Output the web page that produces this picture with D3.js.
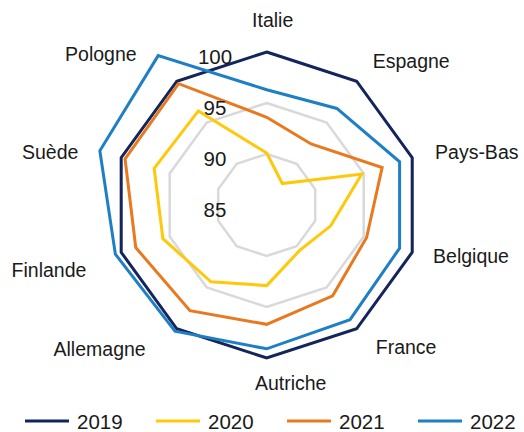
<!DOCTYPE html>
<html>
<head>
<meta charset="utf-8">
<script src="https://cdn.jsdelivr.net/npm/d3@7"></script>
<style>
  body { margin: 0; background: #fff; }
  text { font-family: "Liberation Sans", Arial, sans-serif; fill: #1a1a1a; }
</style>
</head>
<body>
<div id="chart"></div>
<script>
// Data
const countries = ["Italie", "Espagne", "Pays-Bas", "Belgique", "France", "Autriche", "Allemagne", "Finlande", "Suède", "Pologne"];
const years = ["2019", "2020", "2021", "2022"];
const v2019 = [100, 100, 100, 100, 100, 100, 100, 100, 100, 100];
const v2020 = [90.1, 87.6, 94.8, 91.6, 90.5, 92.9, 94.3, 95.7, 96.6, 96.4];
const v2021 = [93.6, 92.4, 96.9, 95.3, 96.0, 96.7, 97.8, 98.5, 99.6, 99.7];
const v2022 = [96.3, 96.7, 98.7, 98.7, 98.9, 99.1, 100.3, 100.6, 102.2, 103.1];
const ticks = [85, 90, 95, 100];

const series = [v2019, v2020, v2021, v2022];
const colors = ["#13255a", "#ffc80a", "#e8791e", "#1f7fc4"];

// Layout
const width = 524, height = 432;
const cx = 266.7, cy = 205;
const R = 153;
const n = countries.length;

const svg = d3.select("#chart")
  .append("svg")
  .attr("width", width)
  .attr("height", height);

const g = svg.append("g")
  .attr("transform", `translate(${cx},${cy})`);

const r = d3.scaleLinear()
  .domain([85, 100])
  .range([0, R]);

const angle = i => i * 2 * Math.PI / n;

const radar = d3.lineRadial()
  .angle((d, i) => angle(i))
  .radius(d => r(d))
  .curve(d3.curveLinearClosed);

// Grid rings
g.selectAll(".grid")
  .data(ticks.slice(1))
  .enter().append("path")
  .attr("class", "grid")
  .attr("d", t => radar(countries.map(() => t)))
  .attr("fill", "none")
  .attr("stroke", "#d9d9d9")
  .attr("stroke-width", 2.5);

// Series
g.selectAll(".series")
  .data(series)
  .enter().append("path")
  .attr("class", "series")
  .attr("d", d => radar(d))
  .attr("fill", "none")
  .attr("stroke", (d, i) => colors[i])
  .attr("stroke-width", 3)
  .attr("stroke-linejoin", "miter");

// Tick labels
g.selectAll(".tick")
  .data(ticks)
  .enter().append("text")
  .attr("class", "tick")
  .attr("x", -51.7)
  .attr("y", t => -r(t) + 11.5)
  .attr("text-anchor", "middle")
  .attr("font-size", "20.5px")
  .text(t => t);

// Category labels (Excel pushes some labels a bit off the spoke)
const nudge = {
  "Italie": [6, -8], "Espagne": [2, -1], "Pays-Bas": [0, 2], "Belgique": [-2, -4],
  "France": [5, -1], "Autriche": [24, 1], "Allemagne": [-17, 1], "Finlande": [-12, 10],
  "Suède": [-20, 2], "Pologne": [-26, -8]
};

g.selectAll(".cat")
  .data(countries)
  .enter().append("text")
  .attr("class", "cat")
  .attr("x", (d, i) => Math.sin(angle(i)) * (R + 24) + nudge[d][0])
  .attr("y", (d, i) => -Math.cos(angle(i)) * (R + 24) + nudge[d][1])
  .attr("dy", "0.35em")
  .attr("text-anchor", (d, i) => {
    const s = Math.sin(angle(i));
    return s > 0.1 ? "start" : s < -0.1 ? "end" : "middle";
  })
  .attr("font-size", "19.5px")
  .text(d => d);

// Legend
const legend = svg.append("g")
  .attr("transform", "translate(25, 421)");

const item = legend.selectAll(".legend-item")
  .data(years)
  .enter().append("g")
  .attr("class", "legend-item")
  .attr("transform", (d, i) => `translate(${i * 131}, 0)`);

item.append("line")
  .attr("x1", 0)
  .attr("x2", 44)
  .attr("stroke", (d, i) => colors[i])
  .attr("stroke-width", 3);

item.append("text")
  .attr("x", 52)
  .attr("y", 7.5)
  .attr("font-size", "20.5px")
  .text(d => d);
</script>
</body>
</html>
